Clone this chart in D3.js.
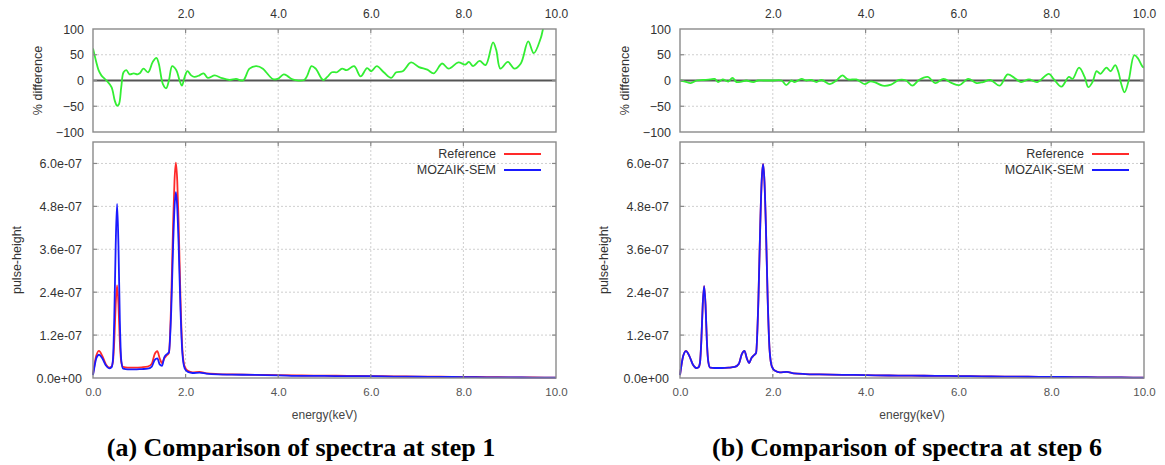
<!DOCTYPE html>
<html>
<head>
<meta charset="utf-8">
<script src="https://cdn.jsdelivr.net/npm/d3@7"></script>
<style>
    body { margin: 0; background: #fff; }
    svg { display: block; }
</style>
</head>
<body>
<div id="chart"></div>
<script>
// energy grid of the spectra (keV)
var energy = [0, 0.03, 0.07, 0.13, 0.2, 0.28, 0.35, 0.4, 0.43, 0.46,
    0.49, 0.52, 0.55, 0.58, 0.61, 0.65, 0.75, 0.9, 1.05, 1.18,
    1.27, 1.33, 1.39, 1.44, 1.49, 1.54, 1.59, 1.64, 1.69, 1.73,
    1.76, 1.79, 1.82, 1.85, 1.89, 1.93, 1.98, 2.05, 2.15, 2.3,
    2.45, 2.7, 3.0, 3.5, 4.0, 4.5, 5.0, 5.5, 6.0, 6.5,
    7.0, 7.5, 8.0, 8.5, 9.0, 9.5, 10.0];

// pulse-height, in units of 1e-07
var ref1 = [0.1, 0.35, 0.62, 0.76, 0.62, 0.38, 0.29, 0.32, 0.45, 1.05,
    2.05, 2.59, 2.05, 1.0, 0.45, 0.31, 0.29, 0.29, 0.3, 0.32,
    0.4, 0.66, 0.75, 0.55, 0.42, 0.55, 0.63, 0.7, 2.2, 4.3,
    5.5, 6.02, 5.5, 4.3, 2.2, 0.8, 0.32, 0.2, 0.16, 0.17,
    0.13, 0.11, 0.1, 0.09, 0.08, 0.07, 0.065, 0.06, 0.055, 0.045,
    0.04, 0.035, 0.03, 0.025, 0.02, 0.015, 0.01];
var moz1 = [0.08, 0.3, 0.55, 0.65, 0.55, 0.35, 0.27, 0.3, 0.5, 1.7,
    3.7, 4.87, 3.7, 1.6, 0.5, 0.26, 0.24, 0.24, 0.25, 0.26,
    0.32, 0.5, 0.55, 0.38, 0.34, 0.58, 0.66, 0.72, 1.9, 3.7,
    4.75, 5.2, 4.75, 3.7, 1.9, 0.7, 0.27, 0.17, 0.14, 0.15,
    0.12, 0.1, 0.095, 0.085, 0.075, 0.06, 0.06, 0.05, 0.05, 0.04,
    0.035, 0.03, 0.025, 0.02, 0.015, 0.012, 0.008];
var ref6 = [0.08, 0.35, 0.62, 0.76, 0.62, 0.37, 0.28, 0.3, 0.42, 1.05,
    2.05, 2.57, 2.05, 1.0, 0.45, 0.29, 0.28, 0.28, 0.29, 0.31,
    0.4, 0.66, 0.76, 0.55, 0.42, 0.56, 0.63, 0.7, 2.2, 4.3,
    5.5, 5.99, 5.5, 4.3, 2.2, 0.8, 0.32, 0.2, 0.16, 0.17,
    0.13, 0.11, 0.1, 0.09, 0.08, 0.07, 0.065, 0.06, 0.055, 0.045,
    0.04, 0.035, 0.03, 0.025, 0.02, 0.015, 0.01];
var moz6 = [0.08, 0.35, 0.62, 0.75, 0.62, 0.37, 0.28, 0.3, 0.42, 1.05,
    2.05, 2.57, 2.05, 1.0, 0.45, 0.29, 0.28, 0.28, 0.29, 0.31,
    0.4, 0.66, 0.76, 0.55, 0.42, 0.56, 0.63, 0.7, 2.2, 4.3,
    5.5, 5.98, 5.5, 4.3, 2.2, 0.8, 0.32, 0.2, 0.16, 0.17,
    0.13, 0.11, 0.1, 0.09, 0.08, 0.07, 0.065, 0.06, 0.055, 0.045,
    0.04, 0.035, 0.03, 0.025, 0.02, 0.015, 0.01];

// % difference curves
var diffE1 = [0, 0.07, 0.12, 0.18, 0.29, 0.4, 0.47, 0.52, 0.56, 0.61,
    0.66, 0.72, 0.79, 0.88, 0.96, 1.01, 1.09, 1.19, 1.29, 1.37,
    1.42, 1.51, 1.58, 1.64, 1.71, 1.8, 1.87, 1.92, 1.98, 2.04,
    2.12, 2.19, 2.3, 2.39, 2.48, 2.63, 2.77, 2.95, 3.09, 3.24,
    3.38, 3.53, 3.67, 3.74, 3.88, 3.99, 4.12, 4.21, 4.31, 4.56,
    4.63, 4.72, 4.81, 4.97, 5.06, 5.16, 5.27, 5.38, 5.48, 5.64,
    5.78, 5.92, 6.01, 6.13, 6.28, 6.44, 6.55, 6.69, 6.87, 7.04,
    7.22, 7.36, 7.54, 7.68, 7.89, 8.04, 8.12, 8.21, 8.35, 8.48,
    8.64, 8.71, 8.8, 8.96, 9.1, 9.24, 9.4, 9.52, 9.67, 9.75,
    9.85, 10];
var diff1 = [62, 36, 20, 10, 0, -13, -39, -49, -46, -13,
    16, 20, 12, 14, 12, 14, 23, 16, 36, 44,
    33, -7, -15, 0, 28, 20, 0, -10, 7, 18,
    10, 7, 10, 14, 5, 10, 5, 1, 3, 0,
    23, 28, 23, 16, 3, 3, 12, 8, 2, 1,
    10, 28, 23, 1, 7, 16, 16, 23, 20, 28,
    8, 24, 18, 28, 16, 5, 16, 18, 35, 26,
    21, 14, 33, 23, 35, 31, 36, 28, 38, 30,
    74, 59, 23, 36, 23, 33, 76, 53, 82, 110,
    125, 130];
var diffE6 = [0, 0.11, 0.23, 0.36, 0.5, 0.65, 0.75, 0.82, 0.92, 1.04,
    1.13, 1.22, 1.33, 1.43, 1.58, 1.68, 1.79, 2.0, 2.19, 2.29,
    2.4, 2.47, 2.62, 2.72, 2.83, 2.94, 3.05, 3.23, 3.37, 3.5,
    3.62, 3.8, 3.98, 4.09, 4.19, 4.37, 4.55, 4.72, 4.87, 5.01,
    5.15, 5.34, 5.5, 5.68, 5.86, 6.02, 6.21, 6.39, 6.53, 6.69,
    6.89, 7.06, 7.21, 7.35, 7.52, 7.7, 7.95, 8.06, 8.22, 8.38,
    8.46, 8.6, 8.72, 8.8, 8.89, 8.98, 9.06, 9.19, 9.28, 9.38,
    9.45, 9.51, 9.58, 9.67, 9.79, 9.87, 9.96, 10];
var diff6 = [0, -2, -5, 0, 1, 2, 3, -3, 2, -2,
    5, -3, -2, 0, -3, 0, 0, 0, 0, -9,
    0, -3, 3, 0, 1, -3, 1, -7, 0, 10,
    2, 2, -7, -2, -3, -10, -8, 1, 0, -10,
    1, 7, -5, 3, -5, -9, 3, -5, -3, 1,
    -10, 12, 5, -3, 2, -3, 13, 2, -12, 7,
    3, 25, 7, -13, -3, 18, 13, 25, 18, 30,
    16, -7, -23, 0, 49, 43, 28, 25];

var xTicks = [0, 2, 4, 6, 8, 10];
var xTickLabels = ["0.0", "2.0", "4.0", "6.0", "8.0", "10.0"];
var diffTicks = [-100, -50, 0, 50, 100];
var pulseTicks = [0, 1.2, 2.4, 3.6, 4.8, 6.0];
var pulseTickLabels = ["0.0e+00", "1.2e-07", "2.4e-07", "3.6e-07", "4.8e-07", "6.0e-07"];
var seriesNames = ["Reference", "MOZAIK-SEM"];
var seriesColors = ["#ff2a2a", "#1a1aff"];
var captions = ["(a) Comparison of spectra at step 1", "(b) Comparison of spectra at step 6"];

var svg = d3.select("#chart").append("svg")
    .attr("width", 1165)
    .attr("height", 465)
    .style("font-family", "'Liberation Sans', Arial, sans-serif");

var topBox = { top: 29, bottom: 132 },
    botBox = { top: 142, bottom: 378 };

function drawPanel(idx, left, right, capX, diffE, diff, ref, moz) {
    var g = svg.append("g");
    var xScale = d3.scaleLinear().domain([0, 10]).range([left, right]);
    var yDiff = d3.scaleLinear().domain([-100, 100]).range([topBox.bottom, topBox.top]);
    var yPulse = d3.scaleLinear().domain([0, 6.6]).range([botBox.bottom, botBox.top]);

    var clipId = "clip" + idx;
    svg.append("clipPath").attr("id", clipId)
        .append("rect")
        .attr("x", left).attr("y", topBox.top)
        .attr("width", right - left).attr("height", topBox.bottom - topBox.top);

    /********** top panel: % difference **********/
    // grid
    g.selectAll(".vgridTop")
        .data(xTicks.slice(1, 5))
        .enter().append("line")
        .attr("x1", function (d) { return xScale(d); })
        .attr("x2", function (d) { return xScale(d); })
        .attr("y1", topBox.top).attr("y2", topBox.bottom)
        .attr("stroke", "#cfcfcf").attr("stroke-dasharray", "2,2");
    g.selectAll(".hgridTop")
        .data([-50, 50])
        .enter().append("line")
        .attr("x1", left).attr("x2", right)
        .attr("y1", function (d) { return yDiff(d); })
        .attr("y2", function (d) { return yDiff(d); })
        .attr("stroke", "#cfcfcf").attr("stroke-dasharray", "2,2");

    // zero line
    g.append("line")
        .attr("x1", left).attr("x2", right)
        .attr("y1", yDiff(0)).attr("y2", yDiff(0))
        .attr("stroke", "#555").attr("stroke-width", 1.8);

    var diffLine = d3.line()
        .x(function (d, i) { return xScale(diffE[i]); })
        .y(function (d) { return yDiff(d); })
        .curve(d3.curveCatmullRom.alpha(0.5));

    g.append("path")
        .datum(diff)
        .attr("clip-path", "url(#" + clipId + ")")
        .attr("d", diffLine)
        .attr("fill", "none")
        .attr("stroke", "#33ee33")
        .attr("stroke-width", 1.8);

    var xTop = d3.axisTop(xScale).tickValues(xTicks.slice(1))
        .tickFormat(function (d) { return xTickLabels[xTicks.indexOf(d)]; })
        .tickSize(0).tickPadding(0);
    var xtg = g.append("g")
        .attr("transform", "translate(0, 18)")
        .call(xTop);
    xtg.select(".domain").remove();
    xtg.selectAll("text").attr("font-size", 12).attr("fill", "#333");

    var yLeftTop = d3.axisLeft(yDiff).tickValues(diffTicks).tickSize(0).tickPadding(0);
    var ytg = g.append("g")
        .attr("transform", "translate(" + (left - 9) + ", 0)")
        .call(yLeftTop);
    ytg.select(".domain").remove();
    ytg.selectAll("text").attr("font-size", 12.5).attr("fill", "#333");

    drawFrame(g, left, right, topBox, xScale, yDiff, xTicks.slice(1, 5), [-50, 0, 50]);

    g.append("text")
        .attr("transform", "translate(" + (left - 55) + ", " + yDiff(0) + ") rotate(-90)")
        .attr("text-anchor", "middle")
        .attr("dy", "0.35em")
        .attr("font-size", 12.5)
        .attr("fill", "#333")
        .text("% difference");

    /********** bottom panel: pulse-height **********/
    g.selectAll(".vgridBot")
        .data(xTicks.slice(1, 5))
        .enter().append("line")
        .attr("x1", function (d) { return xScale(d); })
        .attr("x2", function (d) { return xScale(d); })
        .attr("y1", botBox.top).attr("y2", botBox.bottom)
        .attr("stroke", "#cfcfcf").attr("stroke-dasharray", "2,2");
    g.selectAll(".hgridBot")
        .data(pulseTicks.slice(1))
        .enter().append("line")
        .attr("x1", left).attr("x2", right)
        .attr("y1", function (d) { return yPulse(d); })
        .attr("y2", function (d) { return yPulse(d); })
        .attr("stroke", "#cfcfcf").attr("stroke-dasharray", "2,2");

    var specLine = d3.line()
        .x(function (d, i) { return xScale(energy[i]); })
        .y(function (d) { return yPulse(d); })
        .curve(d3.curveMonotoneX);

    [ref, moz].forEach(function (s, k) {
        g.append("path")
            .datum(s)
            .attr("d", specLine)
            .attr("fill", "none")
            .attr("stroke", seriesColors[k])
            .attr("stroke-width", 1.8)
            .attr("stroke-linejoin", "round");
    });

    var xBot = d3.axisBottom(xScale).tickValues(xTicks)
        .tickFormat(function (d) { return xTickLabels[xTicks.indexOf(d)]; })
        .tickSize(0).tickPadding(0);
    var xbg = g.append("g")
        .attr("transform", "translate(0, " + (botBox.bottom + 10) + ")")
        .call(xBot);
    xbg.select(".domain").remove();
    xbg.selectAll("text").attr("font-size", 11.5).attr("fill", "#555");

    var yLeftBot = d3.axisLeft(yPulse).tickValues(pulseTicks)
        .tickFormat(function (d) { return pulseTickLabels[pulseTicks.indexOf(d)]; })
        .tickSize(0).tickPadding(0);
    var ybg = g.append("g")
        .attr("transform", "translate(" + (left - 11) + ", 0)")
        .call(yLeftBot);
    ybg.select(".domain").remove();
    ybg.selectAll("text").attr("font-size", 12.5).attr("fill", "#333");

    drawFrame(g, left, right, botBox, xScale, yPulse, xTicks.slice(1, 5), pulseTicks.slice(1));

    g.append("text")
        .attr("transform", "translate(" + (left - 76) + ", " + yPulse(3.3) + ") rotate(-90)")
        .attr("text-anchor", "middle")
        .attr("dy", "0.35em")
        .attr("font-size", 12.5)
        .attr("fill", "#333")
        .text("pulse-height");

    g.append("text")
        .attr("x", (left + right) / 2)
        .attr("y", 419)
        .attr("text-anchor", "middle")
        .attr("font-size", 12)
        .attr("fill", "#444")
        .text("energy(keV)");

    // legend
    var legend = g.selectAll(".legend")
        .data(seriesNames)
        .enter().append("g")
        .attr("class", "legend")
        .attr("transform", function (d, i) { return "translate(0," + (154 + i * 16) + ")"; });

    legend.append("text")
        .attr("x", right - 60)
        .attr("dy", "0.35em")
        .attr("text-anchor", "end")
        .attr("font-size", 12.5)
        .attr("fill", "#333")
        .text(function (d) { return d; });

    legend.append("line")
        .attr("x1", right - 52).attr("x2", right - 15)
        .attr("y1", 0).attr("y2", 0)
        .attr("stroke", function (d, i) { return seriesColors[i]; })
        .attr("stroke-width", 1.8);

    // caption
    g.append("text")
        .attr("x", capX)
        .attr("y", 456)
        .attr("text-anchor", "middle")
        .attr("font-family", "'Liberation Serif', 'Times New Roman', serif")
        .attr("font-weight", "bold")
        .attr("font-size", 26)
        .attr("fill", "#000")
        .text(captions[idx]);
}

// border with inward ticks on all sides
function drawFrame(g, left, right, box, xScale, yScale, xt, yt) {
    var tk = 4;
    xt.forEach(function (v) {
        g.append("line").attr("x1", xScale(v)).attr("x2", xScale(v))
            .attr("y1", box.top).attr("y2", box.top + tk)
            .attr("stroke", "#888").attr("stroke-width", 1.2);
        g.append("line").attr("x1", xScale(v)).attr("x2", xScale(v))
            .attr("y1", box.bottom).attr("y2", box.bottom - tk)
            .attr("stroke", "#888").attr("stroke-width", 1.2);
    });
    yt.forEach(function (v) {
        g.append("line").attr("x1", left).attr("x2", left + tk)
            .attr("y1", yScale(v)).attr("y2", yScale(v))
            .attr("stroke", "#888").attr("stroke-width", 1.2);
        g.append("line").attr("x1", right).attr("x2", right - tk)
            .attr("y1", yScale(v)).attr("y2", yScale(v))
            .attr("stroke", "#888").attr("stroke-width", 1.2);
    });
    g.append("rect")
        .attr("x", left).attr("y", box.top)
        .attr("width", right - left).attr("height", box.bottom - box.top)
        .attr("fill", "none")
        .attr("stroke", "#8a8a8a")
        .attr("stroke-width", 1.4);
}

drawPanel(0, 93, 556, 301, diffE1, diff1, ref1, moz1);
drawPanel(1, 680, 1144, 907, diffE6, diff6, ref6, moz6);
</script>
</body>
</html>
